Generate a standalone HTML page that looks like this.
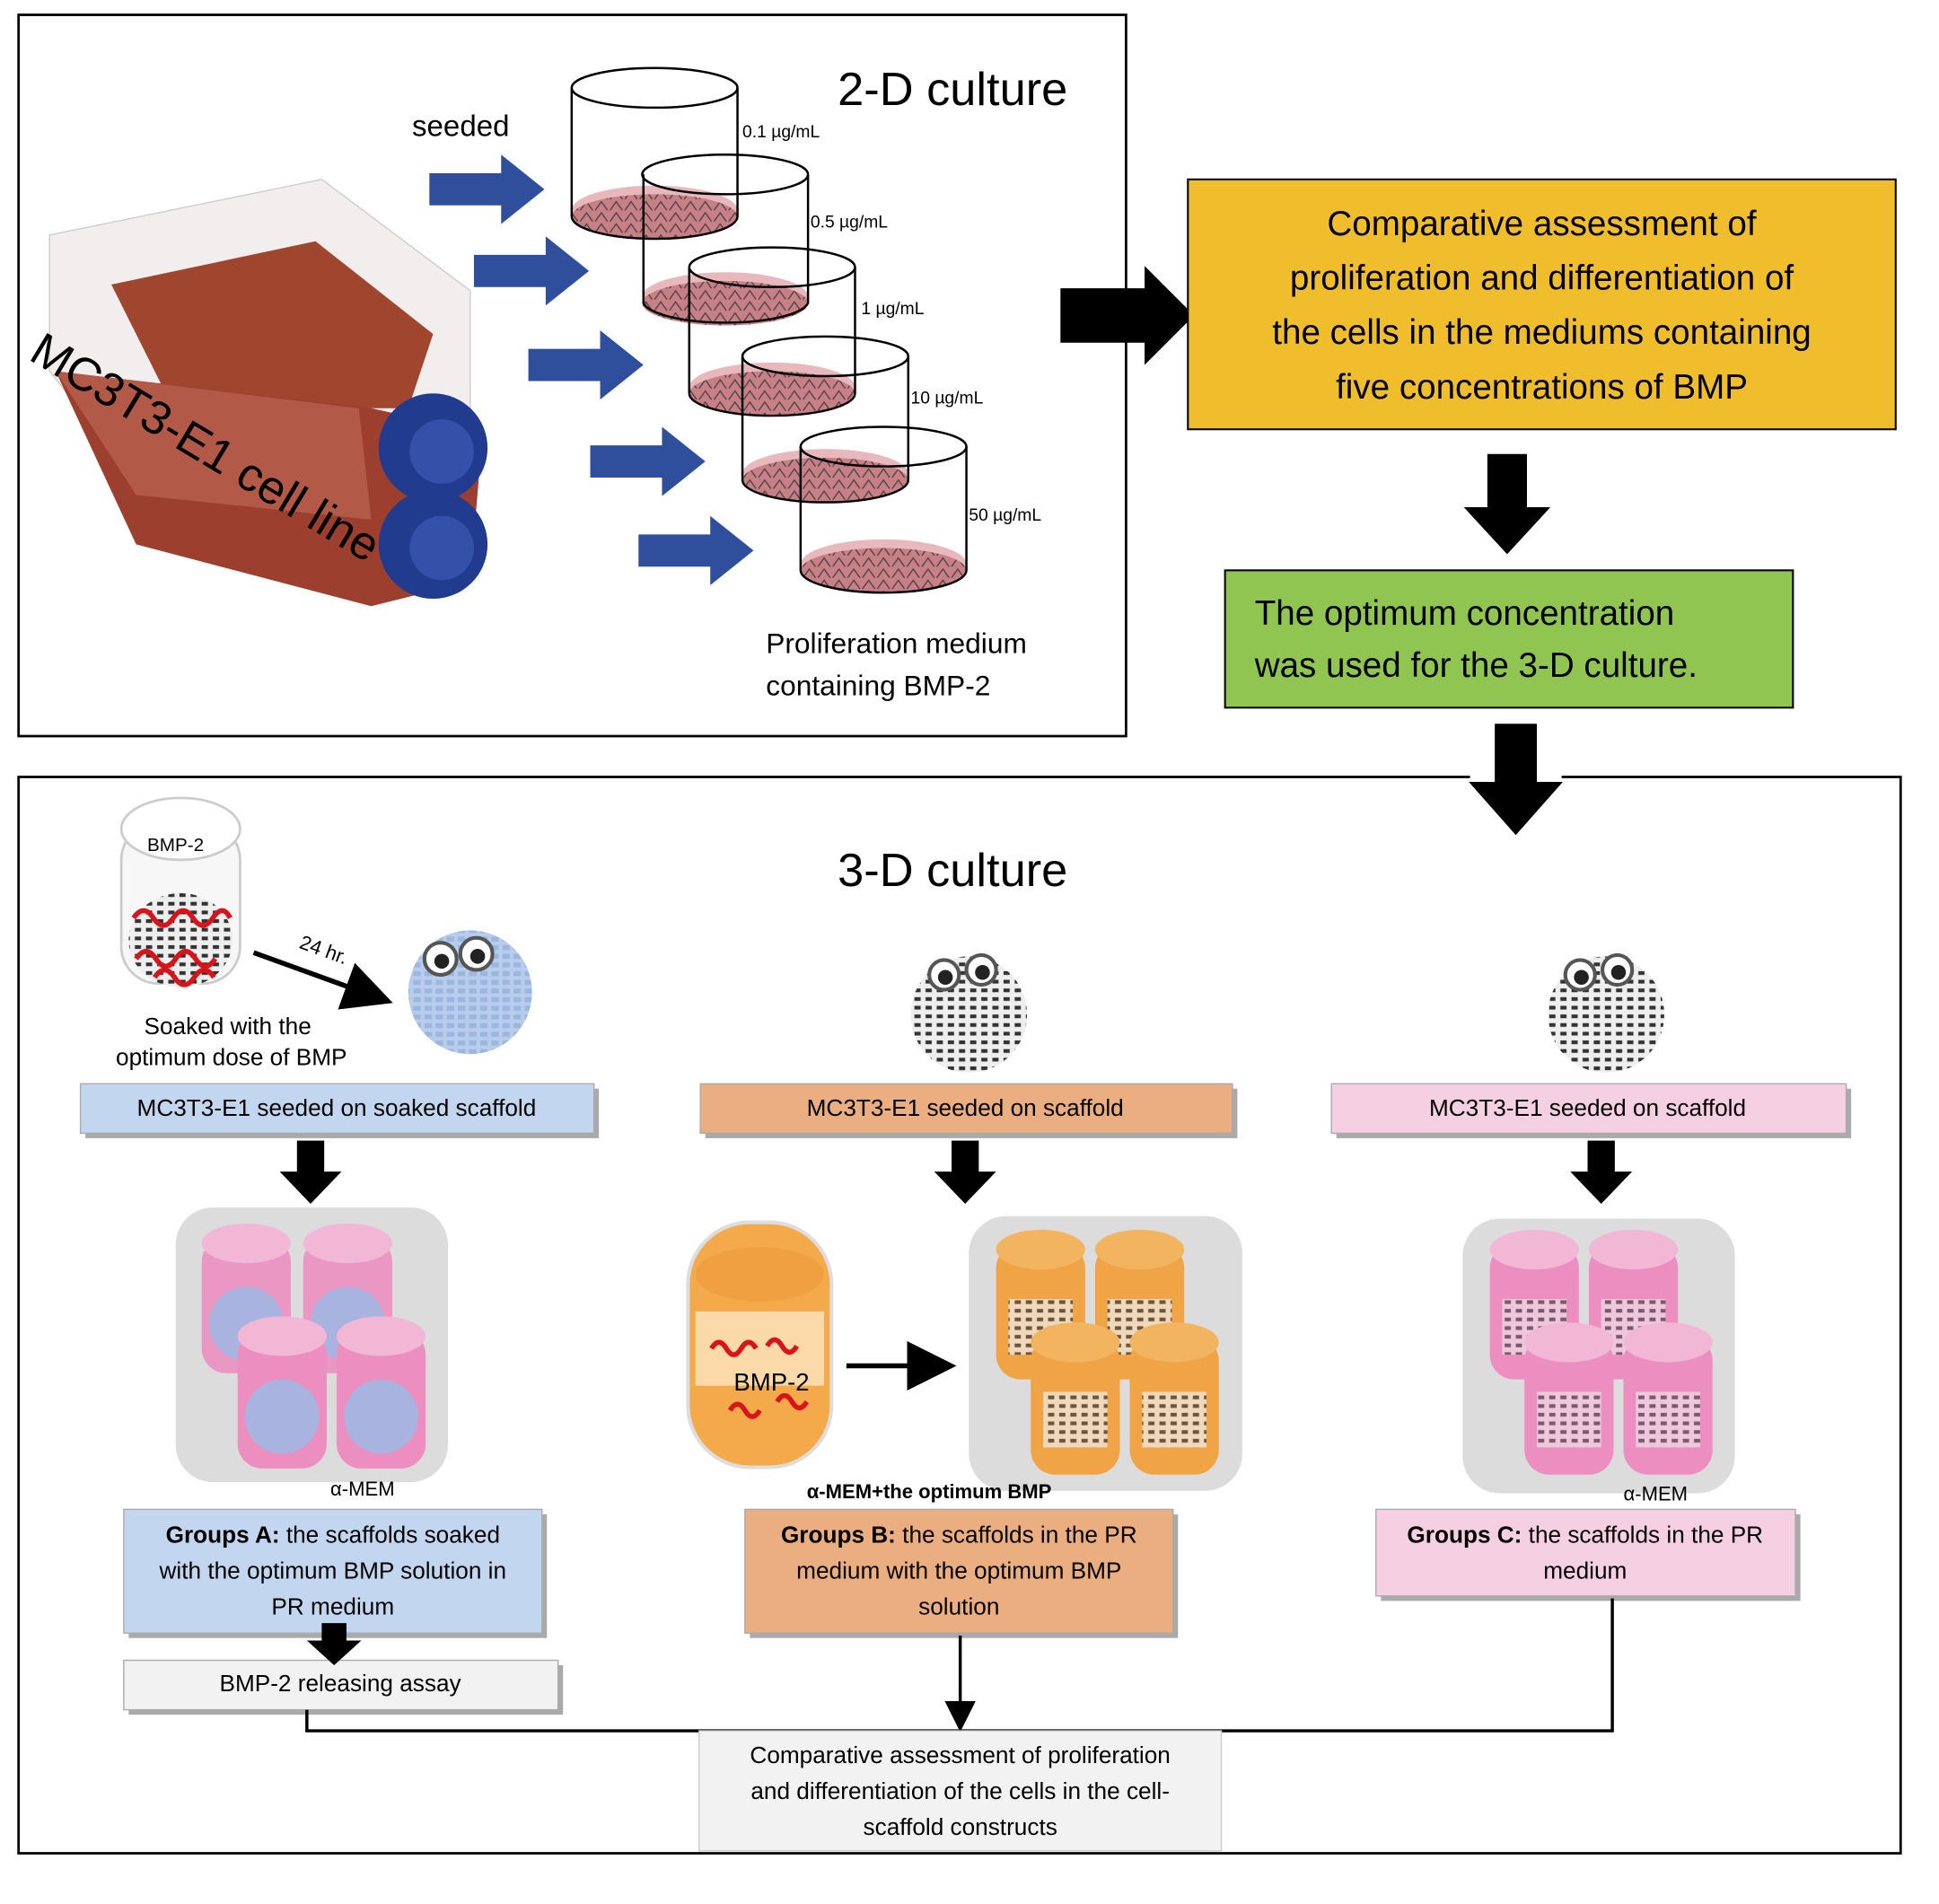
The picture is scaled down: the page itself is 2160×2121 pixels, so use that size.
<!DOCTYPE html>
<html><head><meta charset="utf-8"><style>
html,body{margin:0;padding:0;background:#fff;}
svg{display:block;font-family:"Liberation Sans",sans-serif;}
</style></head><body>
<svg width="2160" height="2121" viewBox="0 0 1567 1539" preserveAspectRatio="none" xmlns="http://www.w3.org/2000/svg">
<defs>
<pattern id="grid" width="9" height="7" patternUnits="userSpaceOnUse"><rect width="9" height="7" fill="#eee"/><rect x="1" y="1" width="5" height="3" fill="#333"/></pattern>
<pattern id="gridb" width="9" height="7" patternUnits="userSpaceOnUse"><rect width="9" height="7" fill="#b8cdec"/><rect x="1" y="1" width="6" height="4" fill="#9db6df"/></pattern>
<pattern id="cells" width="12" height="9" patternUnits="userSpaceOnUse"><rect width="12" height="9" fill="#c97f86"/><path d="M1 8 L6 1 L11 8" stroke="#444" fill="none" stroke-width="1"/></pattern>
<marker id="ah" markerWidth="10" markerHeight="10" refX="8" refY="5" orient="auto"><path d="M0 0 L10 5 L0 10z" fill="#000"/></marker>
</defs>
<rect x="15" y="12" width="895" height="583" fill="none" stroke="#000" stroke-width="2"/>
<text x="677" y="85" font-size="38">2-D culture</text>
<text x="333" y="110" font-size="24">seeded</text>
<g>
<polygon points="40,190 260,145 380,235 380,340 300,420 120,400 40,300" fill="#f2eeee" stroke="#ccc"/>
<polygon points="90,230 255,195 350,270 330,330 140,330" fill="#a0452e"/>
<polygon points="45,300 300,330 390,350 380,470 300,490 110,440" fill="#9c3f2e"/>
<polygon points="45,300 290,330 300,420 110,400" fill="#b8604d" opacity="0.8"/>
<circle cx="350" cy="362" r="44" fill="#213b8e"/><circle cx="357" cy="365" r="26" fill="#3550a8"/>
<circle cx="350" cy="440" r="44" fill="#213b8e"/><circle cx="357" cy="443" r="26" fill="#3550a8"/>
<text x="22" y="290" font-size="38" transform="rotate(31 22 290)">MC3T3-E1 cell line</text>
</g>
<g fill="#2f4f9c">
<polygon points="347,140 405,140 405,125 440,153 405,181 405,166 347,166"/>
<polygon points="383,206 441,206 441,191 476,219 441,247 441,232 383,232"/>
<polygon points="427,282 485,282 485,267 520,295 485,323 485,308 427,308"/>
<polygon points="477,360 535,360 535,345 570,373 535,401 535,386 477,386"/>
<polygon points="516,432 574,432 574,417 609,445 574,473 574,458 516,458"/>
</g>
<g stroke="#000" stroke-width="1.8">
<g><ellipse cx="529" cy="170" rx="67" ry="20" fill="#e8b8bc" stroke="none"/><ellipse cx="529" cy="175" rx="67" ry="18" fill="url(#cells)" stroke="none"/><path d="M462 71 V175 A67 18 0 0 0 596 175 V71" fill="none"/><ellipse cx="529" cy="71" rx="67" ry="16" fill="none"/></g>
<g><ellipse cx="586" cy="240" rx="67" ry="20" fill="#e8b8bc" stroke="none"/><ellipse cx="586" cy="245" rx="67" ry="18" fill="url(#cells)" stroke="none"/><path d="M520 141 V245 A67 18 0 0 0 653 245 V141" fill="none"/><ellipse cx="586" cy="141" rx="67" ry="16" fill="none"/></g>
<g><ellipse cx="624" cy="313" rx="67" ry="20" fill="#e8b8bc" stroke="none"/><ellipse cx="624" cy="318" rx="67" ry="18" fill="url(#cells)" stroke="none"/><path d="M557 216 V318 A67 18 0 0 0 691 318 V216" fill="none"/><ellipse cx="624" cy="216" rx="67" ry="16" fill="none"/></g>
<g><ellipse cx="667" cy="383" rx="67" ry="20" fill="#e8b8bc" stroke="none"/><ellipse cx="667" cy="388" rx="67" ry="18" fill="url(#cells)" stroke="none"/><path d="M600 288 V388 A67 18 0 0 0 734 388 V288" fill="none"/><ellipse cx="667" cy="288" rx="67" ry="16" fill="none"/></g>
<g><ellipse cx="714" cy="456" rx="67" ry="20" fill="#e8b8bc" stroke="none"/><ellipse cx="714" cy="461" rx="67" ry="18" fill="url(#cells)" stroke="none"/><path d="M647 361 V461 A67 18 0 0 0 781 461 V361" fill="none"/><ellipse cx="714" cy="361" rx="67" ry="16" fill="none"/></g>
</g>
<g font-size="14"><text x="600" y="111">0.1 µg/mL</text><text x="655" y="184">0.5 µg/mL</text><text x="696" y="254">1 µg/mL</text><text x="736" y="326">10 µg/mL</text><text x="783" y="421">50 µg/mL</text></g>
<text x="619" y="528" font-size="23">Proliferation medium</text>
<text x="619" y="562" font-size="23">containing BMP-2</text>
<polygon points="857,233 925,233 925,215 965,255 925,295 925,277 857,277" fill="#000"/>
<rect x="960" y="145" width="572" height="202" fill="#f0be2c" stroke="#000" stroke-width="1.5"/>
<g font-size="28" text-anchor="middle"><text x="1246" y="190">Comparative assessment of</text><text x="1246" y="234">proliferation and differentiation of</text><text x="1246" y="278">the cells in the mediums containing</text><text x="1246" y="322">five concentrations of BMP</text></g>
<polygon points="1202,367 1234,367 1234,410 1253,410 1218,448 1183,410 1202,410" fill="#000"/>
<rect x="990" y="461" width="459" height="111" fill="#8fc550" stroke="#000" stroke-width="1.5"/>
<text x="1014" y="505" font-size="28">The optimum concentration</text>
<text x="1014" y="547" font-size="28">was used for the 3-D culture.</text>
<polygon points="1208,585 1242,585 1242,632 1263,632 1225,675 1187,632 1208,632" fill="#000"/>
<path d="M1188 628 H15 V1498 H1536 V628 H1262" fill="none" stroke="#000" stroke-width="2"/>
<text x="677" y="716" font-size="38">3-D culture</text>
<rect x="98" y="665" width="96" height="130" rx="30" fill="#f7f7f7" stroke="#ccc" stroke-width="2"/>
<ellipse cx="146" cy="670" rx="48" ry="25" fill="#fff" stroke="#ccc" stroke-width="2"/>
<text x="119" y="688" font-size="15">BMP-2</text>
<ellipse cx="146" cy="760" rx="42" ry="38" fill="url(#grid)"/>
<g stroke="#d8141a" stroke-width="4" fill="none"><path d="M108 742 q8 -12 16 0 q8 12 16 0 q8 -12 16 0 q8 12 16 0 q8 -12 14 0"/><path d="M110 775 q8 -12 16 0 q8 12 16 0 q8 -12 16 0 q8 12 16 0"/><path d="M125 790 q8 -12 16 0 q8 12 16 0 q8 -12 16 0"/></g>
<line x1="205" y1="770" x2="310" y2="808" stroke="#000" stroke-width="4" marker-end="url(#ah)"/>
<text x="241" y="766" font-size="16" transform="rotate(20 241 766)">24 hr.</text>
<circle cx="380" cy="802" r="50" fill="url(#gridb)"/>
<circle cx="356" cy="775" r="13" fill="#fff" stroke="#555" stroke-width="3"/><circle cx="357" cy="777" r="6" fill="#222"/>
<circle cx="385" cy="771" r="13" fill="#fff" stroke="#555" stroke-width="3"/><circle cx="386" cy="773" r="6" fill="#222"/>
<text x="184" y="836" font-size="19" text-anchor="middle">Soaked with the</text>
<text x="187" y="861" font-size="19" text-anchor="middle">optimum dose of BMP</text>
<g><circle cx="783" cy="820" r="47" fill="url(#grid)"/><circle cx="763" cy="788" r="12" fill="#fff" stroke="#555" stroke-width="3"/><circle cx="764" cy="790" r="6" fill="#222"/><circle cx="793" cy="784" r="12" fill="#fff" stroke="#555" stroke-width="3"/><circle cx="794" cy="786" r="6" fill="#222"/></g>
<g><circle cx="1298" cy="820" r="47" fill="url(#grid)"/><circle cx="1277" cy="788" r="12" fill="#fff" stroke="#555" stroke-width="3"/><circle cx="1278" cy="790" r="6" fill="#222"/><circle cx="1307" cy="784" r="12" fill="#fff" stroke="#555" stroke-width="3"/><circle cx="1308" cy="786" r="6" fill="#222"/></g>
<g font-size="19" text-anchor="middle">
<rect x="69" y="880" width="415" height="40" fill="#555" opacity="0.5"/><rect x="65" y="876" width="415" height="40" fill="#c3d6ef" stroke="#aaa"/><text x="272" y="902">MC3T3-E1 seeded on soaked scaffold</text>
<rect x="570" y="880" width="430" height="40" fill="#555" opacity="0.5"/><rect x="566" y="876" width="430" height="40" fill="#eaae80" stroke="#aaa"/><text x="780" y="902">MC3T3-E1 seeded on scaffold</text>
<rect x="1080" y="880" width="416" height="40" fill="#555" opacity="0.5"/><rect x="1076" y="876" width="416" height="40" fill="#f5cfe2" stroke="#aaa"/><text x="1283" y="902">MC3T3-E1 seeded on scaffold</text>
</g>
<g fill="#000">
<polygon points="240,922 262,922 262,947 276,947 251,973 226,947 240,947"/>
<polygon points="769,922 791,922 791,947 805,947 780,973 755,947 769,947"/>
<polygon points="1283,922 1305,922 1305,947 1319,947 1294,973 1269,947 1283,947"/>
</g>
<g>
<rect x="142" y="976" width="220" height="222" rx="30" fill="#dcdcdc"/>
<rect x="783" y="983" width="221" height="222" rx="30" fill="#dcdcdc"/>
<rect x="1182" y="985" width="220" height="222" rx="30" fill="#dcdcdc"/>
</g>
<g>
<g><rect x="163" y="1000" width="72" height="110" rx="20" fill="#ec8fc0" opacity="0.9"/><circle cx="199" cy="1070" r="30" fill="#a8b3e0"/><ellipse cx="199" cy="1005" rx="36" ry="16" fill="#f3b7d6"/></g>
<g><rect x="245" y="1000" width="72" height="110" rx="20" fill="#ec8fc0" opacity="0.9"/><circle cx="281" cy="1070" r="30" fill="#a8b3e0"/><ellipse cx="281" cy="1005" rx="36" ry="16" fill="#f3b7d6"/></g>
<g><rect x="192" y="1075" width="72" height="112" rx="20" fill="#ec8fc0"/><circle cx="228" cy="1145" r="30" fill="#a8b3e0"/><ellipse cx="228" cy="1080" rx="36" ry="16" fill="#f3b7d6"/></g>
<g><rect x="272" y="1075" width="72" height="112" rx="20" fill="#ec8fc0"/><circle cx="308" cy="1145" r="30" fill="#a8b3e0"/><ellipse cx="308" cy="1080" rx="36" ry="16" fill="#f3b7d6"/></g>
</g>
<g>
<g><rect x="805" y="1005" width="72" height="110" rx="20" fill="#f0a445"/><rect x="815" y="1050" width="52" height="45" fill="url(#grid)" opacity="0.7"/><ellipse cx="841" cy="1010" rx="36" ry="16" fill="#f3b460"/></g>
<g><rect x="885" y="1005" width="72" height="110" rx="20" fill="#f0a445"/><rect x="895" y="1050" width="52" height="45" fill="url(#grid)" opacity="0.7"/><ellipse cx="921" cy="1010" rx="36" ry="16" fill="#f3b460"/></g>
<g><rect x="833" y="1080" width="72" height="112" rx="20" fill="#f0a445"/><rect x="843" y="1125" width="52" height="45" fill="url(#grid)" opacity="0.7"/><ellipse cx="869" cy="1085" rx="36" ry="16" fill="#f3b460"/></g>
<g><rect x="913" y="1080" width="72" height="112" rx="20" fill="#f0a445"/><rect x="923" y="1125" width="52" height="45" fill="url(#grid)" opacity="0.7"/><ellipse cx="949" cy="1085" rx="36" ry="16" fill="#f3b460"/></g>
</g>
<g>
<g><rect x="1204" y="1005" width="72" height="110" rx="20" fill="#ec8fc0"/><rect x="1214" y="1050" width="52" height="45" fill="url(#grid)" opacity="0.6"/><ellipse cx="1240" cy="1010" rx="36" ry="16" fill="#f3b7d6"/></g>
<g><rect x="1284" y="1005" width="72" height="110" rx="20" fill="#ec8fc0"/><rect x="1294" y="1050" width="52" height="45" fill="url(#grid)" opacity="0.6"/><ellipse cx="1320" cy="1010" rx="36" ry="16" fill="#f3b7d6"/></g>
<g><rect x="1232" y="1080" width="72" height="112" rx="20" fill="#ec8fc0"/><rect x="1242" y="1125" width="52" height="45" fill="url(#grid)" opacity="0.6"/><ellipse cx="1268" cy="1085" rx="36" ry="16" fill="#f3b7d6"/></g>
<g><rect x="1312" y="1080" width="72" height="112" rx="20" fill="#ec8fc0"/><rect x="1322" y="1125" width="52" height="45" fill="url(#grid)" opacity="0.6"/><ellipse cx="1348" cy="1085" rx="36" ry="16" fill="#f3b7d6"/></g>
</g>
<rect x="556" y="988" width="116" height="198" rx="50" fill="#f4a94b" stroke="#ddd" stroke-width="3"/>
<rect x="562" y="1060" width="104" height="60" fill="#fbd9a8"/>
<ellipse cx="614" cy="1030" rx="52" ry="22" fill="#f0a040"/>
<g stroke="#d8141a" stroke-width="4" fill="none"><path d="M575 1090 q6 -10 12 0 q6 10 12 0 q6 -10 12 0"/><path d="M620 1088 q6 -10 12 0 q6 10 12 0"/><path d="M590 1140 q6 -10 12 0 q6 10 12 0"/><path d="M628 1133 q6 -10 12 0 q6 10 12 0"/></g>
<text x="593" y="1124" font-size="20">BMP-2</text>
<line x1="684" y1="1104" x2="765" y2="1104" stroke="#000" stroke-width="4" marker-end="url(#ah)"/>
<g font-size="16"><text x="267" y="1209">α-MEM</text><text x="652" y="1211" font-weight="bold">α-MEM+the optimum BMP</text><text x="1312" y="1213">α-MEM</text></g>
<g font-size="19" text-anchor="middle">
<rect x="104" y="1224" width="338" height="100" fill="#555" opacity="0.5"/><rect x="100" y="1220" width="338" height="100" fill="#c3d6ef" stroke="#aaa"/>
<text x="269" y="1247"><tspan font-weight="bold">Groups A:</tspan> the scaffolds soaked</text><text x="269" y="1276">with the optimum BMP solution in</text><text x="269" y="1305">PR medium</text>
<rect x="606" y="1224" width="346" height="100" fill="#555" opacity="0.5"/><rect x="602" y="1220" width="346" height="100" fill="#eaae80" stroke="#aaa"/>
<text x="775" y="1247"><tspan font-weight="bold">Groups B:</tspan> the scaffolds in the PR</text><text x="775" y="1276">medium with the optimum BMP</text><text x="775" y="1305">solution</text>
<rect x="1116" y="1224" width="339" height="70" fill="#555" opacity="0.5"/><rect x="1112" y="1220" width="339" height="70" fill="#f5cfe2" stroke="#aaa"/>
<text x="1281" y="1247"><tspan font-weight="bold">Groups C:</tspan> the scaffolds in the PR</text><text x="1281" y="1276">medium</text>
<rect x="104" y="1346" width="351" height="40" fill="#555" opacity="0.5"/><rect x="100" y="1342" width="351" height="40" fill="#f2f2f2" stroke="#aaa"/>
<text x="275" y="1367">BMP-2 releasing assay</text>
</g>
<polygon points="260,1312 280,1312 280,1326 292,1326 270,1346 248,1326 260,1326" fill="#000"/>
<g stroke="#000" stroke-width="2.5" fill="none">
<path d="M248 1382 V1399 H1303 V1292"/>
<path d="M776 1322 V1395" marker-end="url(#ah)"/>
</g>
<rect x="565" y="1399" width="422" height="97" fill="#f2f2f2" stroke="#ccc"/>
<g font-size="19" text-anchor="middle"><text x="776" y="1425">Comparative assessment of proliferation</text><text x="776" y="1454">and differentiation of the cells in the cell-</text><text x="776" y="1483">scaffold constructs</text></g>
</svg>
</body></html>
